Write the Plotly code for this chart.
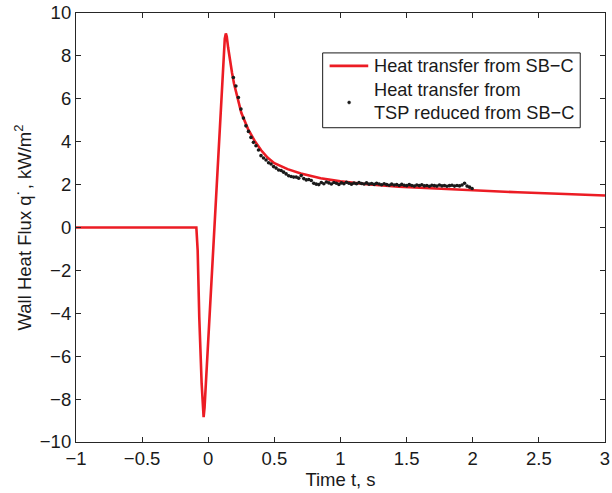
import plotly.graph_objects as go

# Red curve: heat transfer from SB-C
t_model = [-1.0, -0.09, -0.08, -0.068, -0.05, -0.042, -0.035, -0.028, -0.017, 0.0, 0.02, 0.04,
           0.06, 0.08, 0.10, 0.115, 0.125, 0.133, 0.14, 0.15, 0.165, 0.18, 0.195, 0.22, 0.25,
           0.30, 0.35, 0.40, 0.45, 0.50, 0.60, 0.70, 0.85, 1.0, 1.2, 1.44, 1.6, 1.8, 2.03,
           2.34, 2.7, 3.0]
q_model = [0.0, 0.0, -1.07, -4.17, -7.27, -8.3, -8.84, -8.4, -7.2, -5.4, -3.2, -1.0,
           1.2, 3.4, 5.8, 7.8, 8.8, 9.05, 8.9, 8.4, 7.7, 7.2, 6.7, 6.1, 5.35,
           4.6, 4.05, 3.6, 3.25, 3.0, 2.72, 2.52, 2.3, 2.15, 2.02, 1.9, 1.85, 1.78, 1.72,
           1.64, 1.56, 1.49]

# Black dots: heat transfer from TSP reduced from SB-C
t_tsp = [0.190, 0.209, 0.228, 0.247, 0.266, 0.285, 0.304, 0.323, 0.342, 0.361, 0.380, 0.399,
         0.418, 0.437, 0.456, 0.475, 0.494, 0.513, 0.532, 0.551, 0.570, 0.589, 0.608, 0.627,
         0.646, 0.665, 0.684, 0.703, 0.722, 0.741, 0.760, 0.779, 0.798, 0.817, 0.836, 0.855,
         0.874, 0.893, 0.912, 0.931, 0.950, 0.969, 0.988, 1.007, 1.026, 1.045, 1.064, 1.083,
         1.102, 1.121, 1.140, 1.159, 1.178, 1.197, 1.216, 1.235, 1.254, 1.273, 1.292, 1.311,
         1.330, 1.349, 1.368, 1.387, 1.406, 1.425, 1.444, 1.463, 1.482, 1.501, 1.520, 1.539,
         1.558, 1.577, 1.596, 1.615, 1.634, 1.653, 1.672, 1.691, 1.710, 1.729, 1.748, 1.767,
         1.786, 1.805, 1.824, 1.843, 1.862, 1.881, 1.900, 1.919, 1.938, 1.957, 1.976, 1.995]
q_tsp = [6.99, 6.60, 6.06, 5.52, 5.10, 4.74, 4.48, 4.20, 3.97, 3.81, 3.61, 3.35,
         3.24, 3.15, 3.02, 2.96, 2.84, 2.77, 2.68, 2.66, 2.58, 2.50, 2.41, 2.38,
         2.35, 2.35, 2.30, 2.42, 2.28, 2.22, 2.24, 2.19, 2.06, 2.02, 2.00, 2.10,
         2.04, 2.12, 2.08, 2.03, 2.10, 2.06, 2.01, 2.08, 2.04, 2.11, 2.06, 2.02,
         2.07, 2.04, 2.09, 2.05, 2.03, 2.08, 2.02, 2.05, 2.01, 2.06, 2.03, 1.99,
         2.04, 2.00, 1.97, 2.02, 1.98, 2.00, 1.96, 2.01, 1.97, 1.95, 2.00, 1.96,
         1.93, 1.98, 1.95, 1.99, 1.94, 1.96, 1.92, 1.97, 1.95, 1.93, 1.98, 1.94,
         1.96, 1.92, 1.95, 1.97, 1.93, 1.96, 1.94, 1.98, 2.06, 1.93, 1.88, 1.82]

x_ticks = [-1, -0.5, 0, 0.5, 1, 1.5, 2, 2.5, 3]
y_ticks = [-10, -8, -6, -4, -2, 0, 2, 4, 6, 8, 10]
legend_line1 = "Heat transfer from SB\u2212C"
legend_line2 = "Heat transfer from"
legend_line3 = "TSP reduced from SB\u2212C"

FONT = "Liberation Sans, Arial, Helvetica, sans-serif"
AX = "#262626"
TXT = "#1a1a1a"
RED = "rgb(236,28,36)"

W, H = 612, 493
ML, MR, MT, MB = 76, 2, 12, 51
PW, PH = W - ML - MR, H - MT - MB


def px(x):
    return (x - ML) / PW


def py(y):
    return (H - MB - y) / PH


fig = go.Figure()
fig.add_trace(go.Scatter(x=t_model, y=q_model, mode="lines", name=legend_line1,
                         line=dict(color=RED, width=2.6), showlegend=False))
fig.add_trace(go.Scatter(x=t_tsp, y=q_tsp, mode="markers",
                         name=legend_line2 + " " + legend_line3,
                         marker=dict(color=TXT, size=3.6), showlegend=False))

axis_common = dict(showgrid=False, zeroline=False, showline=True, linecolor=AX, linewidth=1.2,
                   mirror="ticks", ticks="inside", ticklen=5, tickcolor=AX,
                   ticklabeloverflow="allow",
                   tickfont=dict(family=FONT, size=18.5, color=TXT))

LEG_FONT = dict(family=FONT, size=18.2, color=TXT)

# manual legend box (matches the reference's compact layout)
shapes = [
    dict(type="rect", xref="paper", yref="paper", x0=px(325), x1=px(585), y0=py(127), y1=py(52),
         line=dict(color=TXT, width=1), fillcolor="white", layer="above"),
    dict(type="line", xref="paper", yref="paper", x0=px(332), x1=px(371), y0=py(65), y1=py(65),
         line=dict(color=RED, width=2.6), layer="above"),
    dict(type="circle", xref="paper", yref="paper", x0=px(350.2), x1=px(353.2),
         y0=py(103.2), y1=py(100.2), line=dict(color=TXT, width=0.5), fillcolor=TXT, layer="above"),
]
annotations = [
    dict(xref="paper", yref="paper", x=px(375), y=py(65), text=legend_line1, showarrow=False,
         xanchor="left", yanchor="middle", font=LEG_FONT),
    dict(xref="paper", yref="paper", x=px(375), y=py(89), text=legend_line2, showarrow=False,
         xanchor="left", yanchor="middle", font=LEG_FONT),
    dict(xref="paper", yref="paper", x=px(375), y=py(112), text=legend_line3, showarrow=False,
         xanchor="left", yanchor="middle", font=LEG_FONT),
]

fig.update_layout(
    width=W, height=H,
    margin=dict(l=ML, r=MR, t=MT, b=MB),
    paper_bgcolor="white", plot_bgcolor="white",
    showlegend=False,
    shapes=shapes, annotations=annotations,
    xaxis=dict(range=[-1, 3], tickvals=x_ticks,
               title=dict(text="Time t, s", font=dict(family=FONT, size=18.5, color=TXT), standoff=2),
               **axis_common),
    yaxis=dict(range=[-10, 10], tickvals=y_ticks,
               title=dict(text="Wall Heat Flux q\u02d9, kW/m<sup>2</sup>",
                          font=dict(family=FONT, size=18.5, color=TXT), standoff=3),
               **axis_common),
)

fig.write_html("out.html")
